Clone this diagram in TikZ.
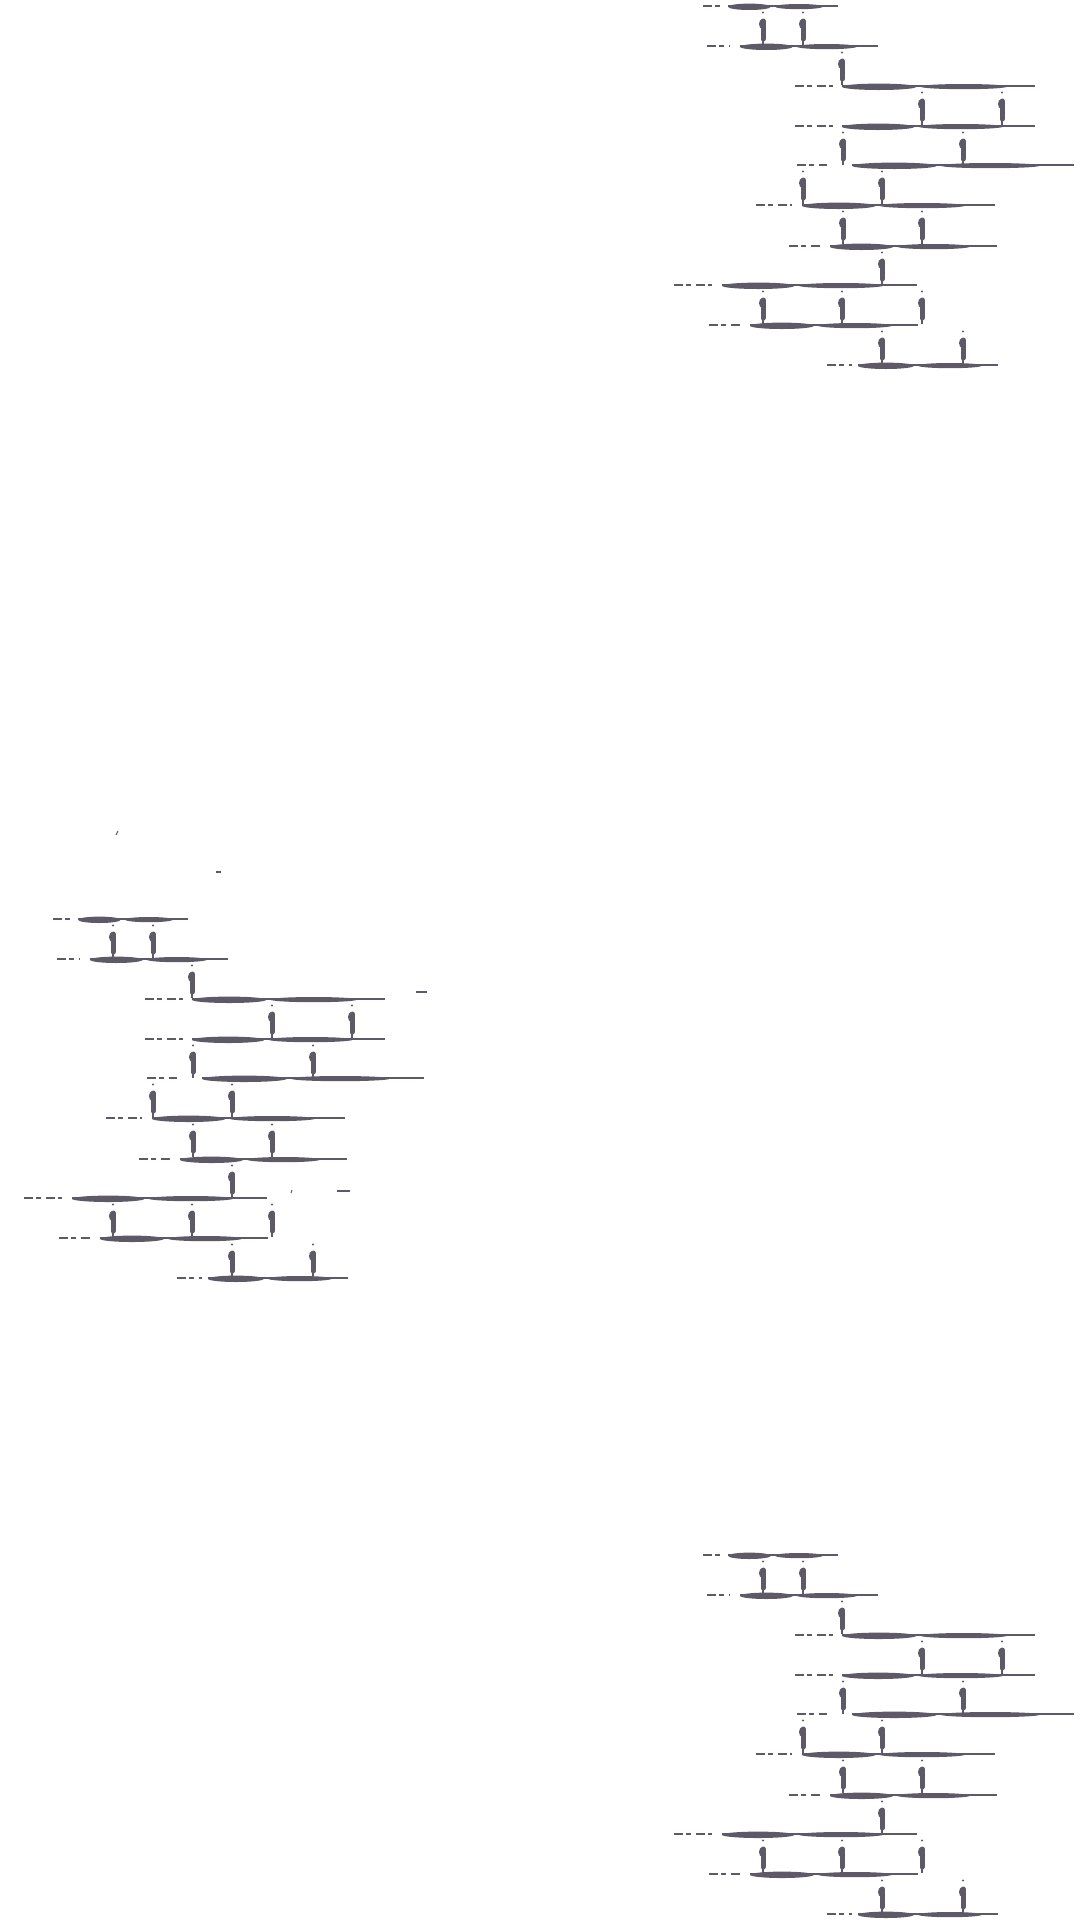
\documentclass[tikz,border=0pt]{standalone}
\definecolor{ink}{RGB}{94,89,103}
\tikzset{
  thinl/.style={draw=ink, line width=1.5pt},
  barl/.style={draw=ink, line width=3.6pt, line cap=round},
}
\newcommand{\rowline}[6]{%
  \pgfmathsetmacro\ra{#4+0.45*(#5-#4)}%
  \pgfmathsetmacro\cA{(#4+\ra)/2}\pgfmathsetmacro\wA{(\ra-#4)/2}%
  \pgfmathsetmacro\cB{(\ra+4+#5)/2}\pgfmathsetmacro\wB{(#5-\ra-4)/2}%
  \pgfmathsetmacro\aL{#4+0.15*(\ra-#4)}\pgfmathsetmacro\aR{\ra-0.15*(\ra-#4)}%
  \pgfmathsetmacro\bL{\ra+4+0.15*(#5-\ra-4)}\pgfmathsetmacro\bR{#5-0.15*(#5-\ra-4)}%
  \draw[thinl, dash pattern=on 9pt off 3pt on 5pt off 5pt] (#2,#1) -- (#3,#1);
  \draw[thinl] (#4,#1) -- (#6,#1);
  \fill[ink] (\cA,#1+0.8) ellipse [x radius=\wA pt, y radius=3.2pt];
  \fill[ink] (\cB,#1+0.6) ellipse [x radius=\wB pt, y radius=2.6pt];
  \draw[barl] (\aL,#1+0.8) -- (\aR,#1+0.8);
  \draw[barl, line width=3pt] (\bL,#1+0.6) -- (\bR,#1+0.6);
}
\newcommand{\vconn}[2]{%
  \fill[ink] (#1,#2+6.5) circle [radius=1.2pt];
  \fill[ink] (#1-0.6,#2+18) ellipse [x radius=3.4pt, y radius=5pt];
  \draw[ink, line width=5pt, line cap=round] (#1,#2+15) -- (#1,#2+33);
  \draw[ink, line width=1.6pt] (#1,#2+30) -- (#1,#2+39);
}
\newcommand{\ladderfig}{%
  \foreach \yy/\dl/\dr/\tl/\tr/\tn in {6/703/723/728/823/838, 46/707/730/740/857/878,
    86/795/833/842/1007/1035, 126/795/833/842/1003/1035, 165/797/827/852/1040/1074,
    205/756/792/802/965/995, 246/789/822/830/970/997, 285/674/712/722/883/917,
    325/709/742/750/892/918, 365/827/852/858/982/998}
    {\rowline{\yy}{\dl}{\dr}{\tl}{\tr}{\tn}}
  \foreach \xx/\yy in {763/6, 803/6, 842/46, 922/86, 1002/86, 843/126, 963/126,
    803/165, 882/165, 843/205, 922/205, 882/246, 763/285, 842/285, 922/285,
    882/325, 963/325}
    {\vconn{\xx}{\yy}}
}
\begin{document}
\begin{tikzpicture}[x=1pt, y=-1pt]
  \useasboundingbox (0,0) rectangle (1080,1920);
  \fill[white] (0,0) rectangle (1080,1920);
  \begin{scope}
    \ladderfig
  \end{scope}
  \begin{scope}[shift={(-650,913)}]
    \ladderfig
  \end{scope}
  \begin{scope}[shift={(0,1549)}]
    \ladderfig
  \end{scope}
  % stray marks
  \draw[thinl, line width=1pt] (116,835) -- (118,831);
  \draw[thinl, line width=1.2pt] (216,872) -- (221,872);
  \draw[thinl] (416,992) -- (427,992);
  \draw[thinl, line width=1pt] (291,1193) -- (292,1190);
  \draw[thinl] (337,1191) -- (350,1191);
\end{tikzpicture}
\end{document}
